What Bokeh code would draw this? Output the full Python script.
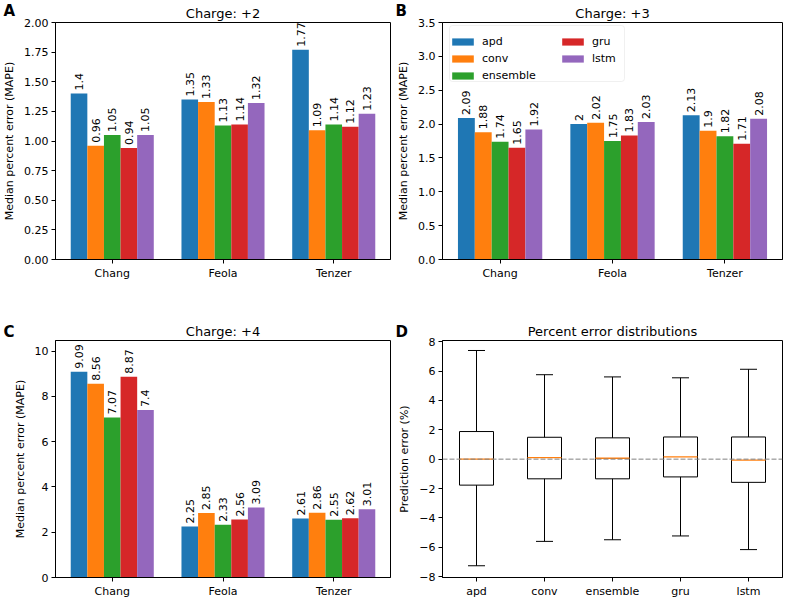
from math import pi
from bokeh.plotting import figure
from bokeh.layouts import gridplot
from bokeh.models import (ColumnDataSource, FixedTicker, Label, Legend, LegendItem,
                          Span, NumeralTickFormatter, BoxAnnotation, Title)
from bokeh.embed import file_html
from bokeh.resources import INLINE

# ---------------- data ----------------
groups = ["Chang", "Feola", "Tenzer"]
models = ["apd", "conv", "ensemble", "gru", "lstm"]
colors = ["#1f77b4", "#ff7f0e", "#2ca02c", "#d62728", "#9467bd"]

charge2_apd = [1.40, 1.35, 1.77]
charge2_conv = [0.96, 1.33, 1.09]
charge2_ensemble = [1.05, 1.13, 1.14]
charge2_gru = [0.94, 1.14, 1.12]
charge2_lstm = [1.05, 1.32, 1.23]

charge3_apd = [2.09, 2.00, 2.13]
charge3_conv = [1.88, 2.02, 1.90]
charge3_ensemble = [1.74, 1.75, 1.82]
charge3_gru = [1.65, 1.83, 1.71]
charge3_lstm = [1.92, 2.03, 2.08]

charge4_apd = [9.09, 2.25, 2.61]
charge4_conv = [8.56, 2.85, 2.86]
charge4_ensemble = [7.07, 2.33, 2.55]
charge4_gru = [8.87, 2.56, 2.62]
charge4_lstm = [7.40, 3.09, 3.01]

# box plot summary (percent error)
box_upper = [7.40, 5.75, 5.60, 5.54, 6.12]
box_q3 = [1.88, 1.49, 1.45, 1.51, 1.51]
box_median = [0.00, 0.10, 0.06, 0.15, -0.06]
box_q1 = [-1.77, -1.34, -1.34, -1.21, -1.58]
box_lower = [-7.26, -5.60, -5.49, -5.23, -6.16]

ticks_a = [0, 0.25, 0.5, 0.75, 1.0, 1.25, 1.5, 1.75, 2.0]
ticks_b = [0, 0.5, 1.0, 1.5, 2.0, 2.5, 3.0, 3.5]
ticks_c = [0, 2, 4, 6, 8, 10]
ticks_d = [-8, -6, -4, -2, 0, 2, 4, 6, 8]

FONT = "DejaVu Sans"
BAR_W = 0.15
FIG_W = 392
H_TOP, H_BOT = 300, 300
# (min_border_top, min_border_bottom) for each row
BORDERS = {"top": (22, 40), "bottom": (40, 20)}
FRAME_H_TOP = H_TOP - sum(BORDERS["top"])


def make_fig(title, row, x_range, y_range):
    bt, bb = BORDERS[row]
    p = figure(width=FIG_W, height=H_TOP if row == "top" else H_BOT,
               x_range=x_range, y_range=y_range, output_backend="svg",
               toolbar_location=None, title=None,
               min_border_left=50, min_border_right=2, min_border_top=bt,
               min_border_bottom=bb)
    ttl = Title(text=title, align="center", text_font=FONT, text_font_size="13px",
                text_font_style="normal", text_color="black", standoff=4)
    p.add_layout(ttl, "above")
    return p


def letter(p, txt, row):
    lab = Label(x=3, y=1 if row == "top" else 22, x_units="canvas", y_units="canvas",
                text=txt, text_baseline="top", text_font=FONT, text_font_size="15px",
                text_font_style="bold", text_color="black")
    p.add_layout(lab, "below" if row == "top" else "above")


def style(p, ylabel):
    p.xgrid.visible = False
    p.ygrid.visible = False
    p.outline_line_color = "black"
    p.outline_line_alpha = 1
    p.background_fill_color = "white"
    p.border_fill_color = "white"
    for ax in (p.xaxis[0], p.yaxis[0]):
        ax.axis_line_color = "black"
        ax.major_tick_line_color = "black"
        ax.minor_tick_line_color = None
        ax.major_tick_out = 4
        ax.major_tick_in = 0
        ax.major_label_text_font = FONT
        ax.major_label_text_font_size = "11px"
        ax.major_label_text_color = "black"
        ax.major_label_standoff = 3
        ax.axis_label_text_font = FONT
        ax.axis_label_text_font_size = "11px"
        ax.axis_label_text_font_style = "normal"
        ax.axis_label_text_color = "black"
        ax.axis_label_standoff = 5
    p.yaxis[0].axis_label = ylabel


def bar_panel(title, series, ymax, yticks, fmt, row, legend=False):
    p = make_fig(title, row, (-0.5125, 2.5125), (0, ymax))
    items = []
    for i, (m, vals) in enumerate(zip(models, series)):
        off = (i - 2) * BAR_W
        src = ColumnDataSource(dict(x=[g + off for g in range(len(groups))], top=vals,
                                    lab=[f"{v:g}" for v in vals]))
        r = p.vbar(x="x", top="top", width=BAR_W, fill_color=colors[i], line_color=None,
                   source=src)
        p.text(x="x", y="top", text="lab", source=src, angle=pi / 2, text_align="left",
               text_baseline="middle", y_offset=-3, text_font_size="11px",
               text_color="black", text_font={"value": FONT})
        items.append(LegendItem(label=m, renderers=[r]))
    style(p, "Median percent error (MAPE)")
    p.xaxis[0].ticker = FixedTicker(ticks=list(range(len(groups))))
    p.xaxis[0].major_label_overrides = {i: g for i, g in enumerate(groups)}
    p.yaxis[0].ticker = FixedTicker(ticks=yticks)
    p.yaxis[0].formatter = NumeralTickFormatter(format=fmt)
    if legend:
        fh = FRAME_H_TOP
        p.add_layout(BoxAnnotation(left=7, right=182, top=fh - 4, bottom=fh - 60,
                                   left_units="screen", right_units="screen",
                                   top_units="screen", bottom_units="screen",
                                   fill_color="white", fill_alpha=0.8,
                                   line_color="#cccccc", line_width=1, border_radius=3))
        common = dict(label_text_font=FONT, label_text_font_size="11px",
                      label_text_color="black", glyph_width=27, glyph_height=9,
                      label_height=13, label_standoff=6, spacing=4, padding=5, margin=0,
                      border_line_color=None, background_fill_alpha=0)
        p.add_layout(Legend(items=items[:3], location=(7, fh - 4 - 57), **common))
        p.add_layout(Legend(items=items[3:], location=(117, fh - 4 - 40), **common))
    return p


pA = bar_panel("Charge: +2", [charge2_apd, charge2_conv, charge2_ensemble, charge2_gru, charge2_lstm],
               2.0, ticks_a, "0.00", "top")
pB = bar_panel("Charge: +3", [charge3_apd, charge3_conv, charge3_ensemble, charge3_gru, charge3_lstm],
               3.5, ticks_b, "0.0", "top", legend=True)
pC = bar_panel("Charge: +4", [charge4_apd, charge4_conv, charge4_ensemble, charge4_gru, charge4_lstm],
               10.47, ticks_c, "0", "bottom")

# ---------------- box plot ----------------
pD = make_fig("Percent error distributions", "bottom", (0.5, 5.5), (-8.06, 8.08))
xi = list(range(1, len(models) + 1))
bsrc = ColumnDataSource(dict(
    x=xi, upper=box_upper, q3=box_q3, med=box_median, q1=box_q1, lower=box_lower,
    cap0=[x - 0.125 for x in xi], cap1=[x + 0.125 for x in xi],
    box0=[x - 0.25 for x in xi], box1=[x + 0.25 for x in xi]))
pD.segment(x0="x", y0="q3", x1="x", y1="upper", source=bsrc, line_color="black", line_width=1)
pD.segment(x0="x", y0="q1", x1="x", y1="lower", source=bsrc, line_color="black", line_width=1)
pD.segment(x0="cap0", y0="upper", x1="cap1", y1="upper", source=bsrc, line_color="black", line_width=1)
pD.segment(x0="cap0", y0="lower", x1="cap1", y1="lower", source=bsrc, line_color="black", line_width=1)
pD.vbar(x="x", top="q3", bottom="q1", width=0.5, source=bsrc, fill_color=None,
        line_color="black", line_width=1)
pD.segment(x0="box0", y0="med", x1="box1", y1="med", source=bsrc, line_color="#ff7f0e",
           line_width=1.3)
pD.add_layout(Span(location=0, dimension="width", line_color="gray", line_width=1,
                   line_dash="5 2"))
style(pD, "Prediction error (%)")
pD.xaxis[0].ticker = FixedTicker(ticks=xi)
pD.xaxis[0].major_label_overrides = {x: m for x, m in zip(xi, models)}
pD.yaxis[0].ticker = FixedTicker(ticks=ticks_d)
pD.yaxis[0].major_label_overrides = {t: (str(t).replace("-", "\u2212")) for t in ticks_d}

letter(pA, "A", "top")
letter(pB, "B", "top")
letter(pC, "C", "bottom")
letter(pD, "D", "bottom")

grid = gridplot([[pA, pB], [pC, pD]], toolbar_location=None)
open("out.html", "w").write(file_html(grid, INLINE))
